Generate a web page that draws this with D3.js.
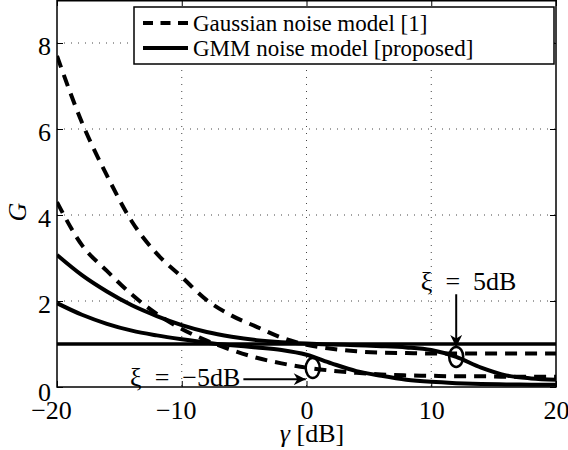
<!DOCTYPE html>
<html>
<head>
<meta charset="utf-8">
<script src="https://d3js.org/d3.v7.min.js"></script>
<style>
  body { margin: 0; background: #fff; }
  text { font-family: "Liberation Serif", "DejaVu Serif", serif; fill: #000; }
</style>
</head>
<body>
<div id="chart"></div>
<script>
// data
var gamma = [-20, -18, -16, -14, -12, -10, -8, -6, -4, -2, 0, 2, 4, 6, 8, 10, 12, 14, 16, 18, 20];

var gaussHigh = [7.7, 6.15, 4.92, 3.85, 3.1, 2.56, 2.02, 1.66, 1.40, 1.15, 0.98, 0.89, 0.83, 0.80, 0.79, 0.78, 0.78, 0.78, 0.78, 0.78, 0.78];
var gaussLow  = [4.3, 3.3, 2.7, 2.15, 1.7, 1.35, 1.08, 0.86, 0.68, 0.55, 0.45, 0.38, 0.33, 0.29, 0.27, 0.26, 0.25, 0.25, 0.24, 0.24, 0.24];
var gmmHigh   = [3.07, 2.6, 2.22, 1.9, 1.65, 1.44, 1.28, 1.17, 1.09, 1.04, 1.01, 0.99, 0.97, 0.95, 0.92, 0.86, 0.70, 0.45, 0.27, 0.2, 0.17];
var gmmLow    = [1.95, 1.68, 1.47, 1.31, 1.2, 1.11, 1.03, 0.97, 0.92, 0.86, 0.75, 0.55, 0.37, 0.26, 0.17, 0.12, 0.09, 0.07, 0.06, 0.055, 0.05];
var unityGain = 1;

var xTicks = [-20, -10, 0, 10, 20];
var yTicks = [0, 2, 4, 6, 8];

var legendLabels = ["Gaussian noise model [1]", "GMM noise model [proposed]"];

// annotations: circle centre, label text and label anchor (data units)
var notes = [
  {label: "\u03BE\u2002=\u20025dB", cx: 12, cy: 0.70, tx: 13, ty: 2.25, dir: "down"},
  {label: "\u03BE\u2002=\u2002\u22125dB", cx: 0.5, cy: 0.44, tx: -5.3, ty: 0.02, dir: "right"}
];

var serif = "'Liberation Serif', 'DejaVu Serif', serif";

var margin = {top: 0, right: 12, bottom: 63, left: 57},
    width = 568 - margin.left - margin.right,
    height = 450 - margin.top - margin.bottom;

var svg = d3.select("#chart")
            .append("svg")
              .attr("width", 568)
              .attr("height", 450);

var chart = svg.append("g")
                .attr("transform", "translate(" + margin.left + "," + margin.top + ")");

// scales
var xScale = d3.scaleLinear().domain([-20, 20]).range([0, width]);
var yScale = d3.scaleLinear().domain([0, 9]).range([height, 0]);

// grid
chart.selectAll(".gx")
  .data(xTicks.slice(1, -1))
.enter().append("line")
  .attr("x1", function(d) { return xScale(d); })
  .attr("x2", function(d) { return xScale(d); })
  .attr("y1", 0)
  .attr("y2", height)
  .attr("stroke", "#444")
  .attr("stroke-width", 1)
  .attr("stroke-dasharray", "1,6");

chart.selectAll(".gy")
  .data(yTicks.slice(1))
.enter().append("line")
  .attr("x1", 0)
  .attr("x2", width)
  .attr("y1", function(d) { return yScale(d); })
  .attr("y2", function(d) { return yScale(d); })
  .attr("stroke", "#444")
  .attr("stroke-width", 1)
  .attr("stroke-dasharray", "1,6");

// axes with inward ticks on all four sides
function fmt(d) { return d < 0 ? "\u2212" + Math.abs(d) : String(d); }

var xAxis = chart.append("g")
  .attr("transform", "translate(0," + height + ")")
  .call(d3.axisBottom(xScale).tickValues(xTicks).tickSizeInner(-6).tickSizeOuter(0).tickPadding(14).tickFormat(fmt))
  .attr("font-family", serif)
  .attr("font-size", 26);
xAxis.selectAll("text")
  .attr("dx", function(d) { return d < 0 ? -6 : 0; });

var yAxis = chart.append("g")
  .call(d3.axisLeft(yScale).tickValues(yTicks).tickSizeInner(-6).tickSizeOuter(0).tickPadding(6).tickFormat(fmt))
  .attr("font-family", serif)
  .attr("font-size", 26);
yAxis.selectAll("text")
  .attr("dy", function(d) { return d === 0 ? "0.5em" : "0.45em"; });

chart.append("g")
  .call(d3.axisTop(xScale).tickValues(xTicks).tickSizeInner(-6).tickSizeOuter(0).tickFormat(""));
chart.append("g")
  .attr("transform", "translate(" + width + ",0)")
  .call(d3.axisRight(yScale).tickValues(yTicks).tickSizeInner(-6).tickSizeOuter(0).tickFormat(""));

chart.selectAll(".domain").remove();
chart.selectAll(".tick line").attr("stroke", "#000").attr("stroke-width", 1);

// clip
chart.append("clipPath")
    .attr("id", "clip")
  .append("rect")
    .attr("width", width)
    .attr("height", height);

var line = d3.line()
  .x(function(d) { return xScale(d[0]); })
  .y(function(d) { return yScale(d[1]); })
  .curve(d3.curveMonotoneX);

function pairs(values) {
  return gamma.map(function(g, i) { return [g, values[i]]; });
}

var plot = chart.append("g").attr("clip-path", "url(#clip)");

// unity gain reference
plot.append("line")
  .attr("x1", 0)
  .attr("x2", width)
  .attr("y1", yScale(unityGain))
  .attr("y2", yScale(unityGain))
  .attr("stroke", "#000")
  .attr("stroke-width", 3.5);

var series = [
  {values: gaussHigh, dashed: true},
  {values: gaussLow, dashed: true},
  {values: gmmHigh, dashed: false},
  {values: gmmLow, dashed: false}
];

plot.selectAll(".curve")
  .data(series)
.enter().append("path")
  .attr("class", "curve")
  .attr("d", function(d) { return line(pairs(d.values)); })
  .attr("fill", "none")
  .attr("stroke", "#000")
  .attr("stroke-width", 4)
  .attr("stroke-dasharray", function(d) { return d.dashed ? "12,8" : null; });

// frame
chart.append("rect")
  .attr("x", 0)
  .attr("y", 0.75)
  .attr("width", width)
  .attr("height", height - 0.75)
  .attr("fill", "none")
  .attr("stroke", "#000")
  .attr("stroke-width", 1.5);

// annotations
svg.append("defs").append("marker")
    .attr("id", "head")
    .attr("viewBox", "0 0 10 10")
    .attr("refX", 10)
    .attr("refY", 5)
    .attr("markerWidth", 7)
    .attr("markerHeight", 6)
    .attr("markerUnits", "strokeWidth")
    .attr("orient", "auto")
  .append("path")
    .attr("d", "M0,0 L10,5 L0,10 L3,5 Z")
    .attr("fill", "#000");

var rx = 7, ry = 10;

notes.forEach(function(n) {
  var cx = xScale(n.cx), cy = yScale(n.cy);

  chart.append("ellipse")
    .attr("cx", cx)
    .attr("cy", cy)
    .attr("rx", rx)
    .attr("ry", ry)
    .attr("fill", "none")
    .attr("stroke", "#000")
    .attr("stroke-width", 2.5);

  chart.append("text")
    .attr("x", xScale(n.tx))
    .attr("y", yScale(n.ty))
    .attr("font-size", 26)
    .attr("text-anchor", n.dir === "down" ? "middle" : "end")
    .text(n.label);

  if (n.dir === "down") {
    chart.append("line")
      .attr("x1", cx)
      .attr("x2", cx)
      .attr("y1", yScale(n.ty) + 4)
      .attr("y2", cy - ry)
      .attr("stroke", "#000")
      .attr("stroke-width", 2)
      .attr("marker-end", "url(#head)");
  }
  else {
    chart.append("line")
      .attr("x1", xScale(n.tx) + 3)
      .attr("x2", cx - rx)
      .attr("y1", yScale(n.ty) - 7)
      .attr("y2", yScale(n.ty) - 7)
      .attr("stroke", "#000")
      .attr("stroke-width", 2)
      .attr("marker-end", "url(#head)");
  }
});

// legend
var legend = svg.append("g");

legend.append("rect")
  .attr("x", 134)
  .attr("y", 7)
  .attr("width", 420)
  .attr("height", 57)
  .attr("fill", "#fff")
  .attr("stroke", "#000")
  .attr("stroke-width", 1.5);

legendLabels.forEach(function(label, i) {
  var y = 23 + i * 25;
  legend.append("line")
    .attr("x1", 143)
    .attr("x2", 188)
    .attr("y1", y)
    .attr("y2", y)
    .attr("stroke", "#000")
    .attr("stroke-width", 4)
    .attr("stroke-dasharray", i === 0 ? "10,7.5" : null);
  legend.append("text")
    .attr("x", 193)
    .attr("y", y + 8)
    .attr("font-size", 23)
    .text(label);
});

// axis labels
var xl = svg.append("text")
  .attr("x", 312)
  .attr("y", 442)
  .attr("font-size", 26)
  .attr("text-anchor", "middle");
xl.append("tspan").attr("font-style", "italic").text("\u03B3");
xl.append("tspan").text(" [dB]");

svg.append("text")
  .attr("transform", "translate(26,212) rotate(-90)")
  .attr("font-size", 26)
  .attr("font-style", "italic")
  .attr("text-anchor", "middle")
  .text("G");
</script>
</body>
</html>
